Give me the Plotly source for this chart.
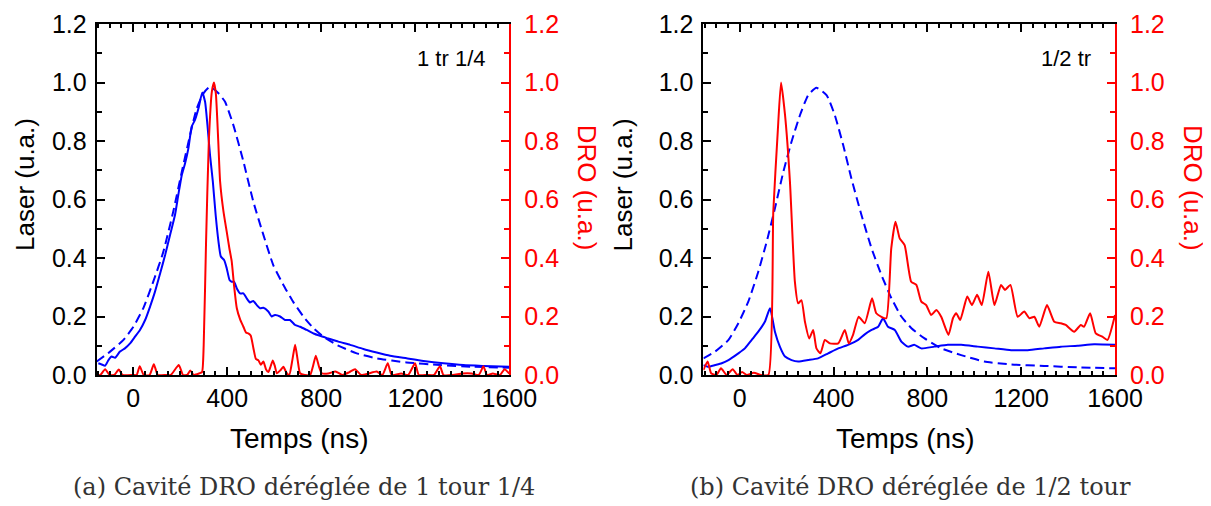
import plotly.graph_objects as go

# ---------------- data: panel (a) ----------------
a_ref_t = [-155, -98, -41, 1, 43, 86, 128, 171, 207, 242, 270, 299, 327, 363, 391, 426, 469, 511, 554,
           596, 639, 681, 724, 767, 809, 866, 951, 1036, 1163, 1305, 1447, 1600]
a_ref_v = [0.046, 0.08, 0.12, 0.165, 0.228, 0.32, 0.42, 0.56, 0.695, 0.82, 0.91, 0.963, 0.986, 0.963,
           0.934, 0.855, 0.73, 0.593, 0.479, 0.376, 0.308, 0.25, 0.2, 0.16, 0.131, 0.103, 0.074, 0.057,
           0.043, 0.034, 0.028, 0.025]

a_las_t = [-148, -134, -119, -105, -91, -77, -56, -35, -13, 8, 29, 51, 72, 93, 115, 136, 157, 178, 192,
           207, 221, 235, 249, 263, 278, 294, 306, 316, 327, 339, 351, 363, 373, 387, 398, 410, 419, 429,
           441, 455, 469, 483, 497, 511, 526, 540, 554, 575, 589, 603, 625, 646, 667, 689, 710, 738, 767,
           795, 830, 873, 923, 979, 1036, 1093, 1163, 1235, 1320, 1405, 1490, 1600]
a_las_v = [0.040, 0.036, 0.032, 0.051, 0.063, 0.059, 0.08, 0.091, 0.108, 0.131, 0.154, 0.188, 0.234,
           0.285, 0.348, 0.41, 0.479, 0.547, 0.615, 0.684, 0.724, 0.775, 0.849, 0.872, 0.912, 0.966,
           0.934, 0.855, 0.752, 0.661, 0.547, 0.456, 0.405, 0.393, 0.365, 0.325, 0.319, 0.319, 0.296,
           0.279, 0.279, 0.262, 0.248, 0.253, 0.239, 0.228, 0.23, 0.217, 0.2, 0.205, 0.2, 0.188, 0.188,
           0.171, 0.165, 0.154, 0.142, 0.134, 0.125, 0.114, 0.103, 0.089, 0.077, 0.066, 0.057, 0.048,
           0.04, 0.034, 0.031, 0.028]

a_dro_t = [-155, -140, -119, -100, -80, -61, -45, 0, 15, 28, 45, 70, 88, 105, 140, 160, 194, 212, 230,
           243, 258, 280, 293, 300, 310, 322, 335, 344, 352, 362, 370, 384, 398, 410, 419, 430, 441, 455,
           469, 480, 490, 500, 512, 522, 533, 543, 554, 565, 575, 585, 594, 603, 611, 625, 639, 652, 664,
           677, 689, 700, 710, 730, 753, 765, 777, 790, 802, 830, 861, 890, 920, 944, 970, 1000, 1036,
           1060, 1083, 1100, 1140, 1170, 1199, 1215, 1250, 1280, 1305, 1320, 1360, 1400, 1440, 1470,
           1490, 1505, 1530, 1560, 1580, 1600]
a_dro_v = [0.0, 0.0, 0.02, 0.0, 0.0, 0.019, 0.0, 0.0, 0.0, 0.03, 0.0, 0.0, 0.037, 0.0, 0.0, 0.0, 0.034,
           0.0, 0.0, 0.015, 0.0, 0.005, 0.01, 0.1, 0.45, 0.8, 0.97, 1.0, 0.96, 0.8, 0.66, 0.56, 0.49,
           0.43, 0.39, 0.3, 0.228, 0.19, 0.165, 0.145, 0.142, 0.135, 0.09, 0.055, 0.05, 0.035, 0.046,
           0.02, 0.01, 0.03, 0.05, 0.03, 0.006, 0.015, 0.028, 0.008, 0.0, 0.05, 0.103, 0.05, 0.006, 0.0,
           0.0, 0.03, 0.066, 0.03, 0.006, 0.005, 0.012, 0.0, 0.01, 0.02, 0.0, 0.005, 0.012, 0.0, 0.04,
           0.0, 0.005, 0.0, 0.04, 0.0, 0.0, 0.0, 0.03, 0.0, 0.0, 0.005, 0.005, 0.0, 0.03, 0.0, 0.005,
           0.0, 0.02, 0.005]

# ---------------- data: panel (b) ----------------
b_ref_t = [-155, -105, -48, -6, 36, 79, 115, 150, 186, 221, 257, 292, 327, 370, 405, 441, 476, 519, 562,
           604, 647, 689, 732, 788, 859, 944, 1043, 1157, 1298, 1440, 1600]
b_ref_v = [0.057, 0.08, 0.12, 0.177, 0.25, 0.353, 0.456, 0.57, 0.695, 0.798, 0.889, 0.957, 0.982, 0.957,
           0.889, 0.786, 0.672, 0.547, 0.433, 0.342, 0.262, 0.2, 0.16, 0.125, 0.091, 0.068, 0.046, 0.036,
           0.031, 0.026, 0.023]

b_las_t = [-155, -134, -105, -77, -48, -6, 22, 51, 79, 107, 129, 150, 171, 193, 221, 249, 292, 334, 377,
           420, 462, 505, 533, 562, 590, 611, 632, 661, 689, 717, 745, 774, 830, 887, 944, 1015, 1086,
           1157, 1228, 1298, 1369, 1440, 1511, 1600]
b_las_v = [0.034, 0.028, 0.034, 0.04, 0.051, 0.074, 0.091, 0.12, 0.148, 0.182, 0.228, 0.148, 0.097,
           0.063, 0.051, 0.046, 0.051, 0.057, 0.074, 0.091, 0.103, 0.12, 0.139, 0.154, 0.165, 0.194,
           0.165, 0.154, 0.114, 0.097, 0.103, 0.091, 0.097, 0.103, 0.103, 0.097, 0.091, 0.085, 0.085,
           0.091, 0.097, 0.1, 0.105, 0.103]

b_dro_t = [-155, -137, -122, -100, -80, -56, -30, -10, 10, 30, 60, 90, 122, 143, 162, 176, 193, 214, 235,
           249, 263, 278, 296, 313, 327, 344, 363, 384, 420, 448, 465, 483, 507, 533, 564, 582, 604, 625,
           646, 664, 682, 703, 731, 753, 774, 795, 816, 838, 859, 890, 909, 923, 940, 970, 990, 1012,
           1032, 1060, 1086, 1114, 1131, 1154, 1185, 1213, 1235, 1256, 1277, 1310, 1341, 1369, 1390,
           1426, 1454, 1468, 1494, 1518, 1546, 1568, 1600]
b_dro_v = [0.017, 0.046, 0.006, 0.0, 0.023, 0.0, 0.02, 0.0, 0.01, 0.0, 0.008, 0.0, 0.0, 0.558, 0.832,
           1.0, 0.889, 0.661, 0.319, 0.245, 0.256, 0.182, 0.125, 0.154, 0.091, 0.074, 0.12, 0.108, 0.108,
           0.154, 0.108, 0.137, 0.199, 0.177, 0.262, 0.211, 0.199, 0.194, 0.433, 0.524, 0.467, 0.444,
           0.319, 0.308, 0.251, 0.239, 0.205, 0.222, 0.199, 0.137, 0.194, 0.211, 0.188, 0.268, 0.239,
           0.274, 0.239, 0.353, 0.239, 0.308, 0.291, 0.308, 0.199, 0.217, 0.194, 0.199, 0.165, 0.239,
           0.182, 0.177, 0.171, 0.148, 0.171, 0.165, 0.211, 0.142, 0.131, 0.12, 0.205]

x_ticks = [0, 400, 800, 1200, 1600]
x_range = [-155, 1600]
y_range = [0, 1.2]
panel_labels = ["1 tr 1/4", "1/2 tr"]
captions = ["(a) Cavité DRO déréglée de 1 tour 1/4", "(b) Cavité DRO déréglée de 1/2 tour"]
x_title = "Temps (ns)"
yl_title = "Laser (u.a.)"
yr_title = "DRO (u.a.)"

# ---------------- figure ----------------
# the page body has an 8px margin, so the figure sits at (8, 8) in the window
OFF = 8
W, H = 1211 - OFF, 506 - OFF
BLUE, RED = "#0000ff", "#ff0000"
SANS = "Liberation Sans, Arial, sans-serif"
TICK = 25

fig = go.Figure()
panels = [(a_ref_t, a_ref_v, a_las_t, a_las_v, a_dro_t, a_dro_v),
          (b_ref_t, b_ref_v, b_las_t, b_las_v, b_dro_t, b_dro_v)]
axes = [("x", "y", "y2"), ("x2", "y3", "y4")]
for (rt, rv, lt, lv, dt, dv), (xa, ya, yb) in zip(panels, axes):
    fig.add_trace(go.Scatter(x=rt, y=rv, xaxis=xa, yaxis=ya, mode="lines",
                             line=dict(color=BLUE, width=2, dash="9px,5px", shape="spline", smoothing=0.5)))
    fig.add_trace(go.Scatter(x=lt, y=lv, xaxis=xa, yaxis=ya, mode="lines",
                             line=dict(color=BLUE, width=2, shape="spline", smoothing=0.5)))
    fig.add_trace(go.Scatter(x=dt, y=dv, xaxis=xa, yaxis=yb, mode="lines",
                             line=dict(color=RED, width=2, shape="spline", smoothing=0.5)))

# pixel positions in the window
doms = [(96.7, 509.3), (703.4, 1115.0)]
top_px, bot_px = 24, 375
ydom = [1 - (bot_px - OFF) / H, 1 - (top_px - OFF) / H]

def xax(dom, anchor):
    return dict(domain=[(dom[0] - OFF) / W, (dom[1] - OFF) / W], anchor=anchor, range=x_range,
                automargin=False,
                tickmode="array", tickvals=x_ticks, ticks="inside", ticklen=8, tickwidth=1.5,
                tickcolor="black", showline=True, linewidth=2, linecolor="black", mirror="ticks",
                showgrid=False, zeroline=False, ticklabelstandoff=0,
                tickfont=dict(family=SANS, size=TICK, color="black"),
                minor=dict(tickmode="linear", tick0=0, dtick=50, ticks="inside", ticklen=4,
                           tickwidth=1.5, tickcolor="black", showgrid=False))

def yax(anchor, side, color, overlay=None, standoff=3):
    d = dict(domain=ydom, anchor=anchor, side=side, range=y_range, automargin=False,
             tickmode="linear", tick0=0,
             dtick=0.2, tickformat=".1f", ticks="inside", ticklen=8, tickwidth=1.5, tickcolor=color,
             showline=True, linewidth=2, linecolor=color, showgrid=False, zeroline=False,
             ticklabelstandoff=standoff,
             tickfont=dict(family=SANS, size=TICK, color=color),
             minor=dict(tickmode="linear", tick0=0, dtick=0.1, ticks="inside", ticklen=5,
                        tickwidth=1.5, tickcolor=color, showgrid=False))
    if overlay:
        d["overlaying"] = overlay
    return d

fig.update_layout(
    width=W, height=H, margin=dict(l=0, r=0, t=0, b=0, autoexpand=False),
    paper_bgcolor="white", plot_bgcolor="white", showlegend=False,
    xaxis=xax(doms[0], "y"), xaxis2=xax(doms[1], "y3"),
    yaxis=yax("x", "left", "black", standoff=3), yaxis2=yax("x", "right", RED, "y", standoff=8),
    yaxis3=yax("x2", "left", "black", standoff=3), yaxis4=yax("x2", "right", RED, "y3", standoff=8),
)

def P(px, py):
    return (px - OFF) / W, 1 - (py - OFF) / H

anns = []
for i, (d0, d1) in enumerate(doms):
    cx = (d0 + d1) / 2
    x, y = P(d1 - 22, 59)
    anns.append(dict(text=panel_labels[i], x=x, y=y, xanchor="right", yanchor="middle",
                     font=dict(family=SANS, size=22, color="black")))
    if i == 0:
        x, y = P(OFF, 185)
        anns.append(dict(text=yl_title, x=x, y=y, textangle=-90, xanchor="left", yanchor="middle",
                         font=dict(family=SANS, size=26, color="black")))
    else:
        x, y = P(d0 - 80, 185)
        anns.append(dict(text=yl_title, x=x, y=y, textangle=-90, xanchor="center", yanchor="middle",
                         font=dict(family=SANS, size=26, color="black")))
    x, y = P(d1 + 78, 188)
    anns.append(dict(text=yr_title, x=x, y=y, textangle=90, xanchor="center", yanchor="middle",
                     font=dict(family=SANS, size=26, color=RED)))
    x, y = P(cx - 4, 438)
    anns.append(dict(text=x_title, x=x, y=y, xanchor="center", yanchor="middle",
                     font=dict(family=SANS, size=28, color="black")))
    x, y = P(cx + 1, 487)
    anns.append(dict(text=captions[i], x=x, y=y, xanchor="center", yanchor="middle",
                     font=dict(family="DejaVu Serif, serif", size=24, color="#333333")))
for a in anns:
    a.update(xref="paper", yref="paper", showarrow=False)
fig.update_layout(annotations=anns)

fig.write_html("out.html")
